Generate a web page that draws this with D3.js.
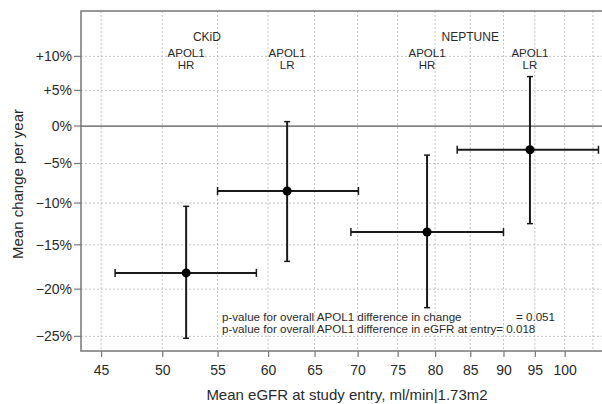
<!DOCTYPE html>
<html>
<head>
<meta charset="utf-8">
<script src="https://cdn.jsdelivr.net/npm/d3@7"></script>
<style>
  body { margin: 0; background: #fff; }
  text { font-family: "Liberation Sans", Arial, sans-serif; fill: #2a2a2a; }
</style>
</head>
<body>
<div id="chart"></div>
<script>
// APOL1 risk groups in CKiD and NEPTUNE: eGFR at entry vs. yearly change
const cohorts = ["CKiD", "CKiD", "NEPTUNE", "NEPTUNE"];
const riskGroups = ["HR", "LR", "HR", "LR"];
const egfrMean = [52.1, 62.0, 78.9, 94.2];
const egfrLow = [46.1, 55.0, 69.2, 83.1];
const egfrHigh = [58.8, 70.1, 90.0, 106.0];
const changeMean = [-18.2, -8.5, -13.5, -3.2];
const changeLow = [-25.2, -16.9, -22.0, -12.5];
const changeHigh = [-10.4, 0.6, -3.9, 7.0];

const cohortNames = ["CKiD", "NEPTUNE"];
const cohortLabelAt = [54, 85]; // eGFR value the cohort name sits over

const xTicks = [45, 50, 55, 60, 65, 70, 75, 80, 85, 90, 95, 100];
const xGrid = [45, 50, 55, 60, 65, 70, 75, 80, 85, 90, 95, 100, 105];
const yTicks = [10, 5, 0, -5, -10, -15, -20, -25];

const pLines = [
  "p-value for overall APOL1 difference in change",
  "p-value for overall APOL1 difference in eGFR at entry= 0.018"
];
const pChange = "= 0.051";

const width = 602, height = 404;
const margin = {top: 11, right: -10, bottom: 53, left: 81};
const w = width - margin.left - margin.right;
const h = height - margin.top - margin.bottom;

const data = egfrMean.map((d, i) => ({
  cohort: cohorts[i], risk: riskGroups[i],
  x: d, x0: egfrLow[i], x1: egfrHigh[i],
  y: changeMean[i], y0: changeLow[i], y1: changeHigh[i]
}));

// log scales: eGFR on log, change on log(1 + change)
const x = d3.scaleLog().domain([43.47, 108.5]).range([0, w]);
const yLog = d3.scaleLog().domain([0.7351, 1.1704]).range([h, 0]);
const y = p => yLog(1 + p / 100);

const svg = d3.select('#chart').append('svg')
    .attr('width', width)
    .attr('height', height);

const g = svg.append('g')
    .attr('transform', `translate(${margin.left},${margin.top})`);

// grid
g.append('g')
  .selectAll('line')
  .data(xGrid)
  .join('line')
    .attr('x1', d => x(d)).attr('x2', d => x(d))
    .attr('y1', 0).attr('y2', h)
    .attr('stroke', '#c4c4c4')
    .attr('stroke-dasharray', '2,2');

g.append('g')
  .selectAll('line')
  .data(yTicks.filter(d => d !== 0))
  .join('line')
    .attr('x1', 0).attr('x2', w)
    .attr('y1', d => y(d)).attr('y2', d => y(d))
    .attr('stroke', '#c4c4c4')
    .attr('stroke-dasharray', '2,2');

g.append('line')
    .attr('x1', 0).attr('x2', w)
    .attr('y1', y(0)).attr('y2', y(0))
    .attr('stroke', '#555')
    .attr('stroke-width', 1.2);

// frame
g.append('rect')
    .attr('width', w).attr('height', h)
    .attr('fill', 'none')
    .attr('stroke', '#777')
    .attr('stroke-width', 1.5);

// axes
const xAxis = g.append('g')
    .attr('transform', `translate(0,${h})`)
    .call(d3.axisBottom(x).tickValues(xTicks).tickFormat(d3.format('d'))
      .tickSize(6).tickPadding(8));
xAxis.select('.domain').remove();
xAxis.selectAll('line').attr('stroke', '#777').attr('stroke-width', 1.2);
xAxis.selectAll('text').style('font-size', '14px')
    .style('font-family', '"Liberation Sans", Arial, sans-serif').attr('fill', '#2a2a2a');

const fmtY = d => d > 0 ? `+${d}%` : d < 0 ? `\u2212${-d}%` : '0%';

const yTickG = g.append('g')
  .selectAll('g')
  .data(yTicks)
  .join('g')
    .attr('transform', d => `translate(0,${y(d)})`);
yTickG.append('line')
    .attr('x1', -7).attr('x2', 0)
    .attr('stroke', '#777').attr('stroke-width', 1.2);
yTickG.append('text')
    .attr('x', -9).attr('dy', '0.35em')
    .attr('text-anchor', 'end')
    .style('font-size', '14px')
    .text(fmtY);

// error bars
const bars = g.append('g')
  .selectAll('g')
  .data(data)
  .join('g')
    .attr('stroke', '#1a1a1a')
    .attr('stroke-width', 2);

bars.append('line')
    .attr('x1', d => x(d.x0)).attr('x2', d => x(d.x1))
    .attr('y1', d => y(d.y)).attr('y2', d => y(d.y));
bars.append('line')
    .attr('x1', d => x(d.x)).attr('x2', d => x(d.x))
    .attr('y1', d => y(d.y0)).attr('y2', d => y(d.y1));
// caps
bars.selectAll('.hcap')
  .data(d => [d.x0, d.x1].map(v => ({v, y: d.y})))
  .join('line')
    .attr('x1', d => x(d.v)).attr('x2', d => x(d.v))
    .attr('y1', d => y(d.y) - 4).attr('y2', d => y(d.y) + 4)
    .attr('stroke-width', 1.5);
bars.selectAll('.vcap')
  .data(d => [d.y0, d.y1].map(v => ({v, x: d.x})))
  .join('line')
    .attr('x1', d => x(d.x) - 3).attr('x2', d => x(d.x) + 3)
    .attr('y1', d => y(d.v)).attr('y2', d => y(d.v))
    .attr('stroke-width', 1.5);
bars.append('circle')
    .attr('cx', d => x(d.x)).attr('cy', d => y(d.y))
    .attr('r', 4.5)
    .attr('fill', '#000').attr('stroke', 'none');

// group labels, two lines each
const labG = g.append('g')
    .style('font-size', '11.5px')
    .attr('text-anchor', 'middle');
labG.selectAll('.apol')
  .data(data)
  .join('text')
    .attr('class', 'apol')
    .attr('x', d => x(d.x))
    .attr('y', 56.5 - margin.top)
    .text('APOL1');
labG.selectAll('.risk')
  .data(data)
  .join('text')
    .attr('class', 'risk')
    .attr('x', d => x(d.x))
    .attr('y', 69 - margin.top)
    .text(d => d.risk);

g.append('g')
  .selectAll('text')
  .data(cohortNames)
  .join('text')
    .attr('x', (d, i) => x(cohortLabelAt[i]))
    .attr('y', 41 - margin.top)
    .attr('text-anchor', 'middle')
    .style('font-size', '12px')
    .text(d => d);

// p-values
g.append('g')
  .selectAll('text')
  .data(pLines)
  .join('text')
    .attr('x', 222 - margin.left)
    .attr('y', (d, i) => 321 - margin.top + i * 12)
    .style('font-size', '11.6px')
    .text(d => d);
g.append('text')
    .attr('x', 516 - margin.left)
    .attr('y', 321 - margin.top)
    .style('font-size', '11.6px')
    .text(pChange);

// axis titles
svg.append('text')
    .attr('x', 347).attr('y', 400)
    .attr('text-anchor', 'middle')
    .style('font-size', '15px')
    .text('Mean eGFR at study entry, ml/min|1.73m2');

svg.append('text')
    .attr('transform', 'translate(23,184) rotate(-90)')
    .attr('text-anchor', 'middle')
    .style('font-size', '15px')
    .text('Mean change per year');
</script>
</body>
</html>
